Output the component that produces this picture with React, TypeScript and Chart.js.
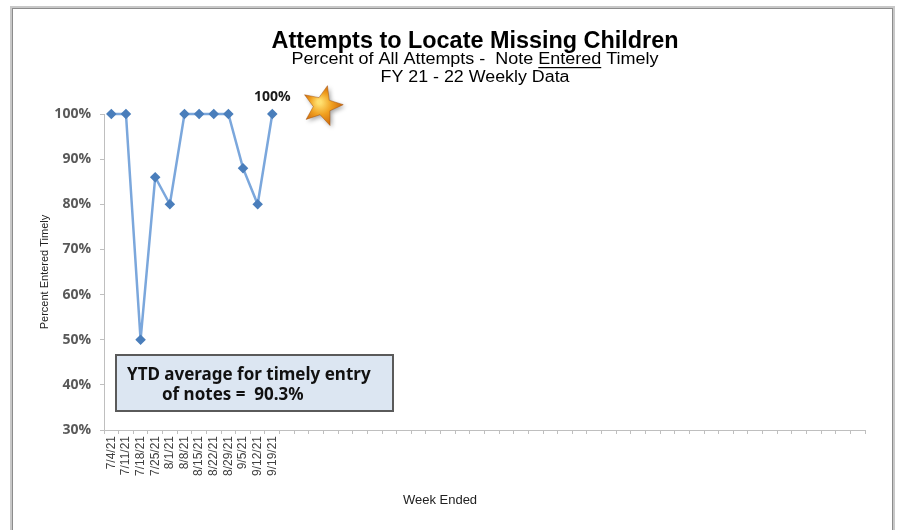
import React, { useEffect, useRef } from "react";
import { Chart, registerables } from "chart.js";

Chart.register(...registerables);

const shownWeeks = ["7/4/21", "7/11/21", "7/18/21", "7/25/21", "8/1/21", "8/8/21", "8/15/21", "8/22/21", "8/29/21", "9/5/21", "9/12/21", "9/19/21"];
const futureWeeks: string[] = Array(40).fill("");
const categories = [...shownWeeks, ...futureWeeks];
const percentTimely = [100, 100, 50, 86, 80, 100, 100, 100, 100, 88, 80, 100];
const yTicks = [30, 40, 50, 60, 70, 80, 90, 100];

const titleLine1 = "Attempts to Locate Missing Children";
const subtitleParts = ["Percent of All Attempts -  Note ", "Entered", " Timely"];
const titleLine3 = "FY 21 - 22 Weekly Data";
const boxLine1 = "YTD average for timely entry";
const boxLine2 = "of notes =  90.3%";
const latestLabel = "100%";
const xTitle = "Week Ended";

function drawStar(ctx: CanvasRenderingContext2D, cx: number, cy: number, R: number, r: number, rot: number) {
  ctx.beginPath();
  for (let i = 0; i < 10; i++) {
    const rad = i % 2 === 0 ? R : r;
    const a = rot + (i * Math.PI) / 5 - Math.PI / 2;
    const x = cx + rad * Math.cos(a);
    const y = cy + rad * Math.sin(a);
    if (i === 0) ctx.moveTo(x, y);
    else ctx.lineTo(x, y);
  }
  ctx.closePath();
}

// draw text parts centred at cx, horizontally scaled to a target width
function drawFitted(ctx: CanvasRenderingContext2D, parts: string[], cx: number, cy: number, targetW: number, underlineIdx: number) {
  const full = parts.join("");
  const w = ctx.measureText(full).width;
  const s = targetW / w;
  ctx.save();
  ctx.translate(cx - targetW / 2, cy);
  ctx.scale(s, 1);
  ctx.textAlign = "left";
  ctx.textBaseline = "middle";
  let x = 0;
  parts.forEach((p, i) => {
    ctx.fillText(p, x, 0);
    const pw = ctx.measureText(p).width;
    if (i === underlineIdx) ctx.fillRect(x, 7, pw, 1.2);
    x += pw;
  });
  ctx.restore();
}

const decorPlugin = {
  id: "decor",
  beforeDraw(chart: any) {
    const ctx = chart.ctx as CanvasRenderingContext2D;
    ctx.save();
    ctx.fillStyle = "#ffffff";
    ctx.fillRect(0, 0, chart.width, chart.height);
    ctx.strokeStyle = "#c8c8c8";
    ctx.lineWidth = 3;
    ctx.strokeRect(11.5, 7.5, 882, 540);
    ctx.strokeStyle = "#8c8c8c";
    ctx.lineWidth = 1;
    ctx.strokeRect(12.5, 8.5, 880, 540);
    ctx.restore();
  },
  afterDraw(chart: any) {
    const ctx = chart.ctx as CanvasRenderingContext2D;
    const { chartArea } = chart;
    ctx.save();
    // Titles
    const cx = 475;
    ctx.fillStyle = "#000000";
    ctx.font = "bold 23px 'Liberation Sans', Arial, sans-serif";
    drawFitted(ctx, [titleLine1], cx, 42, 407, -1);
    ctx.font = "16px 'Liberation Sans', Arial, sans-serif";
    drawFitted(ctx, subtitleParts, cx, 60, 367, 1);
    drawFitted(ctx, [titleLine3], cx, 78, 189, -1);

    // x-axis title
    ctx.fillStyle = "#222222";
    ctx.font = "13px 'Liberation Sans', Arial, sans-serif";
    ctx.textAlign = "center";
    ctx.textBaseline = "middle";
    ctx.fillText(xTitle, 440, 500);

    // Latest point label and star
    const meta = chart.getDatasetMeta(0);
    const last = meta.data[meta.data.length - 1];
    if (last) {
      ctx.font = "bold 14px 'Open Sans', sans-serif";
      ctx.fillStyle = "#1a1a1a";
      ctx.fillText(latestLabel, last.x, last.y - 17);
      const sx = last.x + 50;
      const sy = last.y - 8;
      ctx.save();
      ctx.shadowColor = "rgba(0,0,0,0.35)";
      ctx.shadowBlur = 4;
      ctx.shadowOffsetX = 2;
      ctx.shadowOffsetY = 2;
      drawStar(ctx, sx, sy, 21, 9, 0.25);
      const g = ctx.createRadialGradient(sx - 3, sy - 4, 2, sx, sy, 22);
      g.addColorStop(0, "#ffe070");
      g.addColorStop(0.45, "#f0a020");
      g.addColorStop(1, "#c86008");
      ctx.fillStyle = g;
      ctx.fill();
      ctx.restore();
      ctx.strokeStyle = "rgba(160,80,10,0.6)";
      ctx.lineWidth = 0.8;
      drawStar(ctx, sx, sy, 21, 9, 0.25);
      ctx.stroke();
    }

    // YTD box
    const bx = chartArea.left + 12;
    const by = 355;
    const bw = 277;
    const bh = 56;
    ctx.fillStyle = "#dce6f2";
    ctx.fillRect(bx, by, bw, bh);
    ctx.strokeStyle = "#5a5a5a";
    ctx.lineWidth = 2;
    ctx.strokeRect(bx, by, bw, bh);
    ctx.fillStyle = "#111111";
    ctx.font = "bold 17px 'Noto Sans', sans-serif";
    ctx.textAlign = "left";
    ctx.fillText(boxLine1, bx + 11, by + 20);
    ctx.fillText(boxLine2, bx + 46, by + 40);
    ctx.restore();
  },
};

export default function App() {
  const ref = useRef<HTMLCanvasElement>(null);
  useEffect(() => {
    document.body.style.margin = "0";
    const chart = new Chart(ref.current as HTMLCanvasElement, {
      type: "line",
      data: {
        labels: categories,
        datasets: [
          {
            data: percentTimely,
            borderColor: "#7ba7dc",
            borderWidth: 2.5,
            pointStyle: "rectRot",
            pointRadius: 3.5,
            pointBackgroundColor: "#4a7ebb",
            pointBorderColor: "#4a7ebb",
            tension: 0,
            clip: false,
          },
        ],
      },
      options: {
        animation: false,
        responsive: false,
        layout: { padding: { left: 0, right: 38, top: 114, bottom: 0 } },
        plugins: { legend: { display: false }, title: { display: false }, tooltip: { enabled: false } },
        scales: {
          x: {
            offset: true,
            grid: { display: true, offset: true, drawOnChartArea: false, tickLength: 4, color: "#bfbfbf" },
            border: { color: "#bfbfbf" },
            ticks: {
              autoSkip: false,
              minRotation: 90,
              maxRotation: 90,
              color: "#404040",
              font: { size: 12, family: "'Liberation Sans Narrow', 'Liberation Sans', Arial, sans-serif" },
              padding: 2,
            },
            afterFit(scale: any) {
              scale.height = 100;
            },
          },
          y: {
            min: 30,
            max: 100,
            afterBuildTicks(scale: any) {
              scale.ticks = yTicks.map((v) => ({ value: v }));
            },
            grid: { display: true, drawOnChartArea: false, tickLength: 4, color: "#bfbfbf" },
            border: { color: "#bfbfbf" },
            ticks: {
              color: "#595959",
              font: { size: 14, weight: "bold", family: "'Open Sans', sans-serif" },
              padding: 9,
              callback: (v: any) => v + "%",
            },
            title: {
              display: true,
              text: "Percent Entered Timely",
              color: "#222222",
              font: { size: 11, family: "'Liberation Sans', Arial, sans-serif" },
              padding: { top: 38, bottom: 0 },
            },
            afterFit(scale: any) {
              scale.width = 104;
            },
          },
        },
      },
      plugins: [decorPlugin],
    } as any);
    return () => chart.destroy();
  }, []);
  return <canvas ref={ref} width={903} height={530} style={{ display: "block" }} />;
}
